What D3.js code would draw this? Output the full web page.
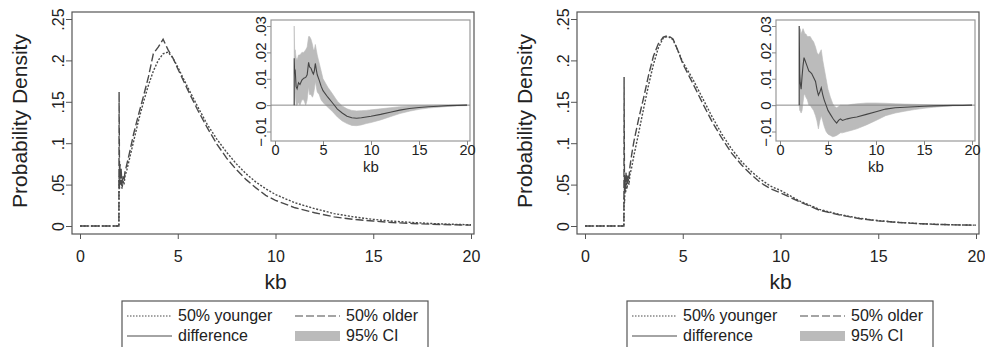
<!DOCTYPE html>
<html>
<head>
<meta charset="utf-8">
<script src="https://cdn.jsdelivr.net/npm/d3@7"></script>
<style>
  body { margin: 0; background: #fff; }
  text { font-family: "Liberation Sans", Arial, sans-serif; fill: #222; }
</style>
</head>
<body>
<div class="chart"></div>
<script>
// Density of read lengths (kb), younger vs older, with inset of the difference

// shared tick values and labels
var xTicks = [0, 5, 10, 15, 20];
var yTicks = [0, 0.05, 0.1, 0.15, 0.2, 0.25];
var yTickLabels = ["0", ".05", ".1", ".15", ".2", ".25"];
var insetYTicks = [-0.01, 0, 0.01, 0.02, 0.03];
var insetYTickLabels = ["\u2212.01", "0", ".01", ".02", ".03"];

// kb grid for the densities
var densityKb = [0, 1.99, 2.0, 2.02, 2.05, 2.08, 2.1, 2.15, 2.2, 2.25,
  2.3, 2.4, 2.5, 2.75, 3.0, 3.25, 3.5, 3.75, 4.0, 4.25,
  4.5, 4.75, 5.0, 5.5, 6.0, 6.5, 7.0, 7.5, 8.0, 8.5,
  9.0, 9.5, 10, 11, 12, 13, 14, 15, 16, 17,
  18, 19, 20];

// left panel densities
var youngerLeft = [0, 0, .06, .045, .07, .05, .065, .045, .055, .05,
  .06, .068, .078, .103, .128, .15, .17, .187, .2, .208,
  .21, .203, .192, .168, .145, .123, .105, .089, .075, .063,
  .053, .045, .038, .028, .021, .015, .011, .008, .0058, .0042,
  .003, .0021, .0015];
var olderLeft = [0, 0, .162, .06, .075, .05, .07, .048, .06, .055,
  .065, .075, .085, .112, .135, .157, .18, .208, .216, .2255,
  .213, .203, .19, .165, .141, .119, .099, .082, .068, .056,
  .046, .037, .031, .022, .016, .011, .008, .006, .0042, .003,
  .0021, .0015, .001];

// right panel densities
var youngerRight = [0, 0, .035, .028, .05, .04, .055, .045, .058, .05,
  .062, .072, .085, .113, .142, .17, .195, .215, .227, .229,
  .225, .212, .198, .178, .155, .132, .111, .093, .078, .066,
  .056, .048, .043, .03, .02, .014, .0095, .0065, .0045, .003,
  .002, .0014, .001];
var olderRight = [0, 0, .18, .04, .06, .045, .065, .05, .062, .058,
  .072, .088, .102, .13, .155, .182, .205, .22, .228, .23,
  .226, .212, .196, .173, .149, .126, .106, .088, .074, .062,
  .052, .045, .04, .029, .019, .0135, .009, .0062, .0043, .0029,
  .0019, .0013, .001];

// left inset: difference and 95% CI
var diffKbLeft = [2.0, 2.0, 2.05, 2.1, 2.2, 2.3, 2.45, 2.6, 2.8, 3.0,
  3.2, 3.35, 3.5, 3.6, 3.75, 3.9, 4.0, 4.1, 4.2, 4.3,
  4.4, 4.6, 4.8, 5.0, 5.5, 6.0, 6.5, 7.0, 7.5, 8.0,
  8.5, 9.0, 9.5, 10, 11, 12, 13, 14, 15, 16,
  17, 18, 19, 20];
var diffLeft = [0, .0178, .012, .0135, .007, .0062, .0085, .0078, .0095, .0102,
  .0105, .0115, .0162, .0145, .014, .0125, .0118, .013, .0158, .0135,
  .0115, .0095, .0072, .0055, .003, .0008, -.0015, -.003, -.0042, -.0048,
  -.005, -.0048, -.0045, -.0042, -.0035, -.0027, -.0019, -.0013, -.0009, -.0006,
  -.0004, -.0002, -.0001, 0];
var ciUpperLeft = [0, .03, .02, .021, .018, .017, .019, .019, .02, .02,
  .021, .022, .026, .026, .025, .023, .021, .021, .023, .021,
  .019, .016, .013, .01, .0068, .0042, .0015, -.0003, -.0014, -.002,
  -.0022, -.0021, -.002, -.0018, -.0014, -.001, -.0006, -.0003, -.0002, -.0001,
  0, 0, 0, .0002];
var ciLowerLeft = [0, 0, .003, .005, 0, 0, .001, 0, .002, .002,
  0, .002, .007, .004, .004, .003, .004, .006, .009, .007,
  .005, .004, .002, .001, -.0008, -.0025, -.0045, -.006, -.007, -.0077,
  -.0078, -.0075, -.007, -.0066, -.0056, -.0044, -.0032, -.0023, -.0016, -.0011,
  -.0008, -.0005, -.0003, -.0002];

// right inset: difference and 95% CI
var diffKbRight = [2.0, 2.0, 2.05, 2.1, 2.2, 2.3, 2.4, 2.5, 2.6, 2.7,
  2.85, 3.0, 3.15, 3.3, 3.5, 3.7, 3.85, 4.0, 4.15, 4.3,
  4.45, 4.6, 4.8, 5.0, 5.25, 5.5, 5.7, 5.9, 6.1, 6.3,
  6.5, 7.0, 7.5, 8, 9, 10, 11, 12, 13, 14,
  15, 16, 17, 18, 19, 20];
var diffRight = [0, .03, .012, .0087, .006, .011, .015, .018, .017, .016,
  .0145, .013, .0125, .012, .0105, .009, .006, .0038, .005, .0066,
  .004, .002, 0, -.002, -.0035, -.005, -.006, -.0068, -.0058, -.0052,
  -.0058, -.0052, -.0048, -.0045, -.0035, -.0025, -.0015, -.001, -.0008, -.0006,
  -.0004, -.0003, -.0002, -.0001, -.0001, 0];
var ciUpperRight = [0, .03, .028, .029, .027, .028, .029, .028, .027, .027,
  .026, .026, .026, .025, .024, .022, .02, .019, .02, .021,
  .017, .014, .01, .006, .003, .0005, -.0005, -.001, -.0005, 0,
  0, 0, .0003, .0005, .0008, .0008, .0007, .0005, .0004, .0003,
  .0002, .0001, .0001, 0, 0, .0001];
var ciLowerRight = [0, 0, -.002, -.002, -.003, -.002, .001, .004, .004, .003,
  .002, 0, 0, -.001, -.002, -.004, -.006, -.009, -.006, -.004,
  -.006, -.008, -.01, -.011, -.0115, -.012, -.0118, -.0115, -.011, -.0105,
  -.0105, -.01, -.0095, -.009, -.0075, -.0058, -.004, -.003, -.0023, -.0017,
  -.0012, -.0008, -.0005, -.0003, -.0002, -.0001];

var legendItems = ["50% younger", "50% older", "difference", "95% CI"];

var svgwidth = 985;
var svgheight = 347;

var svg = d3.select(".chart")
  .append("svg")
  .attr("width", svgwidth)
  .attr("height", svgheight);

var lineColor = "#4a4a4a";
var frameColor = "#555";

function drawPanel(offsetX, younger, older, diffKb, diff, ciUpper, ciLower) {
  var g = svg.append("g").attr("transform", `translate(${offsetX}, 0)`);

  // main scales
  var x = d3.scaleLinear().domain([0, 20]).range([80, 471]);
  var y = d3.scaleLinear().domain([0, 0.25]).range([226, 19]);

  g.append("rect")
    .attr("x", 72).attr("y", 12)
    .attr("width", 402).attr("height", 222)
    .attr("fill", "#fff")
    .attr("stroke", frameColor)
    .attr("stroke-width", 1.2);

  // y axis (rotated labels)
  var yAxis = g.append("g")
    .attr("transform", "translate(72, 0)")
    .call(d3.axisLeft(y).tickValues(yTicks).tickSize(6)
      .tickFormat((d, i) => yTickLabels[i]));
  yAxis.select(".domain").remove();
  yAxis.selectAll("line").attr("stroke", frameColor);
  yAxis.selectAll("text")
    .attr("transform", "rotate(-90)")
    .attr("x", 0).attr("y", -8).attr("dy", 0)
    .attr("text-anchor", "middle")
    .attr("font-size", 16)
    .attr("fill", "#222");

  // x axis
  var xAxis = g.append("g")
    .attr("transform", "translate(0, 234)")
    .call(d3.axisBottom(x).tickValues(xTicks).tickSize(5));
  xAxis.select(".domain").remove();
  xAxis.selectAll("line").attr("stroke", frameColor);
  xAxis.selectAll("text")
    .attr("y", 28).attr("dy", 0)
    .attr("font-size", 16)
    .attr("fill", "#222");

  // axis titles
  g.append("text")
    .attr("transform", "translate(27, 121) rotate(-90)")
    .attr("text-anchor", "middle")
    .attr("font-size", 21)
    .text("Probability Density");

  g.append("text")
    .attr("x", (x(0) + x(20)) / 2)
    .attr("y", 289)
    .attr("text-anchor", "middle")
    .attr("font-size", 21)
    .text("kb");

  // density curves
  var line = d3.line()
    .x((d, i) => x(densityKb[i]))
    .y(d => y(d));

  g.append("path")
    .datum(younger)
    .attr("d", line)
    .attr("fill", "none")
    .attr("stroke", lineColor)
    .attr("stroke-width", 1.4)
    .attr("stroke-dasharray", "2,1.6");

  g.append("path")
    .datum(older)
    .attr("d", line)
    .attr("fill", "none")
    .attr("stroke", lineColor)
    .attr("stroke-width", 1.4)
    .attr("stroke-dasharray", "8,3");

  // inset
  var ix = d3.scaleLinear().domain([0, 20]).range([275, 467]);
  var iy = d3.scaleLinear().domain([-0.01, 0.03]).range([131.5, 26]);

  g.append("rect")
    .attr("x", 271).attr("y", 20)
    .attr("width", 199).attr("height", 121)
    .attr("fill", "#fff")
    .attr("stroke", "#999")
    .attr("stroke-width", 1.2);

  var band = d3.area()
    .x((d, i) => ix(diffKb[i]))
    .y0((d, i) => iy(ciLower[i]))
    .y1(d => iy(d));

  g.append("path")
    .datum(ciUpper)
    .attr("d", band)
    .attr("fill", "#bbb")
    .attr("stroke", "#bbb")
    .attr("stroke-width", 0.6);

  g.append("line")
    .attr("x1", 271).attr("x2", 470)
    .attr("y1", iy(0)).attr("y2", iy(0))
    .attr("stroke", "#888")
    .attr("stroke-width", 1);

  var diffLine = d3.line()
    .x((d, i) => ix(diffKb[i]))
    .y(d => iy(d));

  g.append("path")
    .datum(diff)
    .attr("d", diffLine)
    .attr("fill", "none")
    .attr("stroke", "#444")
    .attr("stroke-width", 1.1);

  var iyAxis = g.append("g")
    .attr("transform", "translate(271, 0)")
    .call(d3.axisLeft(iy).tickValues(insetYTicks).tickSize(4)
      .tickFormat((d, i) => insetYTickLabels[i]));
  iyAxis.select(".domain").remove();
  iyAxis.selectAll("line").attr("stroke", "#888");
  iyAxis.selectAll("text")
    .attr("transform", "rotate(-90)")
    .attr("x", 0).attr("y", -5).attr("dy", 0)
    .attr("text-anchor", "middle")
    .attr("font-size", 15)
    .attr("fill", "#222");

  var ixAxis = g.append("g")
    .attr("transform", "translate(0, 141)")
    .call(d3.axisBottom(ix).tickValues(xTicks).tickSize(4));
  ixAxis.select(".domain").remove();
  ixAxis.selectAll("line").attr("stroke", "#888");
  ixAxis.selectAll("text")
    .attr("y", 14).attr("dy", 0)
    .attr("font-size", 14.5)
    .attr("fill", "#222");

  g.append("text")
    .attr("x", (ix(0) + ix(20)) / 2)
    .attr("y", 172)
    .attr("text-anchor", "middle")
    .attr("font-size", 15)
    .text("kb");

  // legend
  var lg = g.append("g").attr("transform", "translate(122, 301)");
  lg.append("rect")
    .attr("width", 306).attr("height", 70)
    .attr("fill", "#fff")
    .attr("stroke", frameColor)
    .attr("stroke-width", 1.2);

  var cols = [5, 173];
  var rows = [15, 35];
  legendItems.forEach(function(label, i) {
    var cx = cols[i % 2];
    var cy = rows[Math.floor(i / 2)];
    if (i === 3) {
      lg.append("rect")
        .attr("x", cx).attr("y", cy - 5)
        .attr("width", 45).attr("height", 10)
        .attr("fill", "#bbb");
    } else {
      lg.append("line")
        .attr("x1", cx).attr("x2", cx + 45)
        .attr("y1", cy).attr("y2", cy)
        .attr("stroke", lineColor)
        .attr("stroke-width", 1.2)
        .attr("stroke-dasharray", i === 0 ? "1.5,1.5" : i === 1 ? "8,3" : null);
    }
    lg.append("text")
      .attr("x", cx + 51)
      .attr("y", cy + 5)
      .attr("font-size", 16)
      .text(label);
  });
}

drawPanel(0, youngerLeft, olderLeft, diffKbLeft, diffLeft, ciUpperLeft, ciLowerLeft);
drawPanel(505, youngerRight, olderRight, diffKbRight, diffRight, ciUpperRight, ciLowerRight);
</script>
</body>
</html>
